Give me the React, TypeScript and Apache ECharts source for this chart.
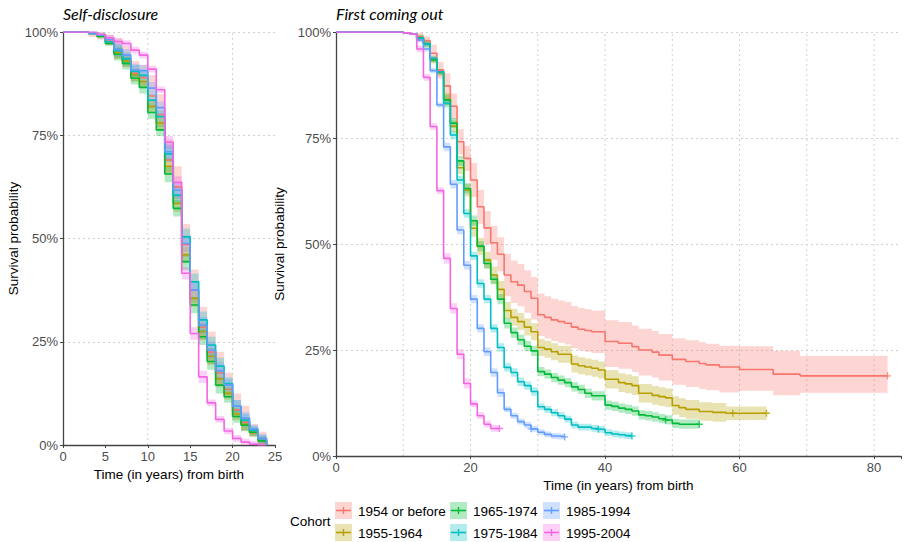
import React, { useEffect, useRef } from "react";
import * as echarts from "echarts";

// ---------- Legend / cohorts ----------
const cohorts = ["1954 or before", "1955-1964", "1965-1974", "1975-1984", "1985-1994", "1995-2004"];
const cohortColors = ["#F8766D", "#B79F00", "#00BA38", "#00BFC4", "#619CFF", "#F564E3"];
const legendTitle = "Cohort";

// ---------- Panel titles / axis names ----------
const panelTitles = ["Self-disclosure", "First coming out"];
const xAxisName = "Time (in years) from birth";
const yAxisName = "Survival probability";
const yTicks = [0, 25, 50, 75, 100];
const sdXTicks = [0, 5, 10, 15, 20, 25];
const foXTicks = [0, 20, 40, 60, 80];
const sdGridX = [10, 20];
const foGridX = [10, 20, 30, 40, 50, 60, 70, 80];

// ---------- Self-disclosure (left panel): survival % on [t, t+1), t = 0..24 ----------
const sdYears = [0, 1, 2, 3, 4, 5, 6, 7, 8, 9, 10, 11, 12, 13, 14, 15, 16, 17, 18, 19, 20, 21, 22, 23, 24];
const sd1954 = [100, 100, 100, 99.8, 99.2, 97.8, 95.5, 93.5, 90.0, 89.0, 84.5, 80.0, 69.0, 62.5, 48.5, 37.5, 28.5, 22.5, 17.5, 13.5, 8.5, 5.5, 3.0, 1.2, 0];
const sd1955 = [100, 100, 100, 99.8, 99.0, 97.4, 95.0, 93.0, 89.6, 88.0, 82.0, 78.0, 67.5, 58.5, 46.0, 35.5, 27.5, 21.5, 16.0, 12.5, 7.5, 5.0, 3.0, 1.0, 0];
const sd1965 = [100, 100, 100, 99.8, 99.0, 97.2, 94.6, 92.4, 88.8, 86.6, 80.5, 76.3, 65.6, 57.3, 44.4, 33.9, 26.2, 20.2, 14.5, 11.7, 6.9, 4.8, 3.1, 1.0, 0];
const sd1975 = [100, 100, 100, 99.8, 99.2, 97.6, 95.5, 93.5, 90.5, 89.5, 83.5, 79.5, 70.5, 60.5, 50.4, 39.5, 30.3, 24.2, 19.1, 14.9, 9.4, 6.0, 3.6, 1.5, 0];
const sd1985 = [100, 100, 100, 99.8, 99.3, 98.2, 95.8, 94.4, 90.8, 90.6, 86.4, 81.7, 71.0, 61.7, 48.8, 37.5, 29.0, 23.0, 18.0, 14.5, 9.4, 6.5, 3.9, 1.6, 0];
const sd1995 = [100, 100, 100, 100, 99.4, 98.6, 97.7, 97.2, 95.6, 94.4, 91.0, 86.0, 73.3, 63.6, 41.6, 27.0, 16.5, 10.2, 6.2, 3.4, 1.6, 0.7, 0.2, 0, 0];

// confidence band: [from time, below, above] in percentage points
const sdBand1954 = [[0, 0, 0], [3, 1, 1.5], [6, 2, 3], [10, 3, 5], [19, 2, 4], [22, 1, 2]];
const sdBandMid = [[0, 0, 0], [3, 0.5, 0.5], [6, 1.5, 1.5], [12, 2, 2], [19, 1.5, 1.5], [22, 1, 1]];
const sdBand1995 = [[0, 0, 0], [5, 0.8, 0.8], [12, 1.5, 1.5], [17, 0.8, 0.8]];

// ---------- First coming out (right panel): [time, survival %] change points ----------
const fo1954 = [[0, 100], [10, 99.8], [11, 99.5], [12, 98.8], [13, 98.0], [14, 95.0], [15, 91.0], [16, 87.3], [17, 82.5], [18, 74.1], [19, 70.2], [20, 65.1], [21, 58.8], [22, 53.8], [23, 50.3], [24, 47.6], [25, 42.7], [26, 41.1], [27, 40.3], [28, 38.8], [29, 37.2], [30, 33.3], [31, 32.7], [32, 32.1], [33, 31.7], [34, 31.3], [35, 30.4], [36, 29.9], [37, 29.6], [38, 29.3], [40, 27.0], [42, 26.6], [44, 25.8], [45, 25.0], [47, 24.5], [48, 23.8], [50, 22.8], [52, 22.3], [54, 21.8], [55, 21.5], [57, 21.0], [60, 20.4], [65, 19.3], [69, 18.9], [82, 18.9]];
const fo1955 = [[0, 100], [10, 99.8], [11, 99.5], [12, 98.6], [13, 97.2], [14, 93.4], [15, 90.4], [16, 84.1], [17, 77.8], [18, 68.0], [19, 62.7], [20, 53.7], [21, 49.4], [22, 46.2], [23, 42.7], [24, 39.3], [25, 34.3], [26, 32.7], [27, 31.7], [28, 30.4], [29, 29.3], [30, 25.6], [31, 25.2], [32, 24.6], [33, 24.0], [35, 21.7], [36, 21.3], [37, 21.0], [38, 20.7], [39, 20.3], [40, 18.1], [42, 17.3], [43, 17.0], [44, 16.6], [45, 14.8], [47, 14.3], [48, 14.0], [49, 13.7], [50, 11.9], [51, 11.4], [52, 11.0], [54, 10.5], [56, 10.3], [58, 10.1], [64, 10.1]];
const fo1965 = [[0, 100], [10, 99.8], [11, 99.5], [12, 98.6], [13, 97.2], [14, 93.4], [15, 90.6], [16, 84.0], [17, 78.5], [18, 69.6], [19, 63.1], [20, 55.5], [21, 49.5], [22, 45.4], [23, 41.7], [24, 37.0], [25, 31.3], [26, 29.1], [27, 27.4], [28, 25.9], [29, 24.8], [30, 19.9], [31, 19.3], [32, 18.5], [33, 17.9], [34, 17.3], [35, 16.3], [36, 15.7], [37, 14.8], [38, 14.2], [40, 12.0], [41, 11.7], [42, 11.3], [43, 11.0], [44, 10.6], [45, 9.7], [46, 9.5], [47, 9.2], [48, 8.8], [49, 8.5], [50, 7.7], [51, 7.5], [54, 7.5]];
const fo1975 = [[0, 100], [10, 99.8], [11, 99.5], [12, 98.6], [13, 97.2], [14, 93.8], [15, 90.6], [16, 83.2], [17, 75.7], [18, 65.1], [19, 57.2], [20, 47.2], [21, 40.7], [22, 37.0], [23, 30.1], [24, 25.6], [25, 20.9], [26, 19.7], [27, 17.5], [28, 16.6], [29, 15.2], [30, 11.6], [31, 11.0], [32, 10.2], [33, 9.5], [34, 8.7], [35, 7.3], [36, 6.8], [38, 6.5], [39, 6.3], [40, 5.5], [41, 5.2], [42, 5.0], [43, 4.8], [44, 4.7]];
const fo1985 = [[0, 100], [10, 99.8], [11, 99.5], [12, 98.1], [13, 96.0], [14, 90.9], [15, 82.8], [16, 72.9], [17, 64.1], [18, 53.3], [19, 45.0], [20, 37.0], [21, 30.1], [22, 24.6], [23, 19.7], [24, 14.9], [25, 11.0], [26, 9.5], [27, 8.1], [28, 7.3], [29, 6.4], [30, 5.6], [31, 5.1], [32, 4.7], [33, 4.6], [34, 4.5]];
const fo1995 = [[0, 100], [10, 99.8], [11, 99.5], [12, 96.0], [13, 89.3], [14, 77.7], [15, 62.6], [16, 46.6], [17, 34.8], [18, 24.0], [19, 17.1], [20, 12.3], [21, 9.5], [22, 7.5], [23, 6.5], [24.3, 6.5]];

const foBand1954 = [[0, 0, 0], [12, 1, 1], [14, 2, 2], [16, 3, 3], [20, 4, 4], [25, 5, 5], [40, 6, 5], [60, 5, 5.5], [69, 4, 4.7]];
const foBand1955 = [[0, 0, 0], [12, 0.8, 0.8], [16, 1.5, 1.5], [20, 2, 2], [40, 2.2, 2.2], [58, 1.6, 1.6]];
const foBand1965 = [[0, 0, 0], [12, 0.6, 0.6], [16, 1.2, 1.2], [30, 1.1, 1.1]];
const foBand1975 = [[0, 0, 0], [12, 0.6, 0.6], [16, 1, 1], [30, 0.8, 0.8]];
const foBand1985 = [[0, 0, 0], [12, 0.6, 0.6], [16, 1, 1], [25, 0.7, 0.7]];
const foBand1995 = [[0, 0, 0], [12, 0.8, 0.8], [16, 1.2, 1.2], [20, 0.8, 0.8]];

// censored observations ("+" marks)
const foCensor1954 = [[82, 18.9]];
const foCensor1955 = [[59, 10.1], [64, 10.1]];
const foCensor1965 = [[49, 8.5], [54, 7.5]];
const foCensor1975 = [[39, 6.3], [44, 4.7]];
const foCensor1985 = [[29, 6.4], [34, 4.5]];
const foCensor1995 = [[24.3, 6.5]];

// ---------- assembly ----------
const sdCurves = [sd1954, sd1955, sd1965, sd1975, sd1985, sd1995].map((vals) =>
  vals.map((v, i) => [sdYears[i], v])
);
const sdBands = [sdBand1954, sdBandMid, sdBandMid, sdBandMid, sdBandMid, sdBand1995];
const foCurves = [fo1954, fo1955, fo1965, fo1975, fo1985, fo1995];
const foBands = [foBand1954, foBand1955, foBand1965, foBand1975, foBand1985, foBand1995];
const foCensors = [foCensor1954, foCensor1955, foCensor1965, foCensor1975, foCensor1985, foCensor1995];

const FONT = "'Liberation Sans', Arial, Helvetica, sans-serif";
const TITLE_FONT = "Lato, 'Open Sans', sans-serif";
const PLUS = "path://M4,0h2v4h4v2h-4v4h-2v-4h-4v-2h4z";

function bandAt(band: number[][], t: number) {
  let b = band[0];
  for (const e of band) if (e[0] <= t) b = e;
  return b;
}

function bandPolygon(curve: number[][], band: number[][]) {
  const upper: number[][] = [];
  const lower: number[][] = [];
  for (let i = 0; i < curve.length - 1; i++) {
    const [t0, v] = curve[i];
    const t1 = curve[i + 1][0];
    const b = bandAt(band, t0);
    const hi = Math.min(100, v + b[2]);
    const lo = Math.max(0, v - b[1]);
    upper.push([t0, hi], [t1, hi]);
    lower.push([t0, lo], [t1, lo]);
  }
  return upper.concat(lower.reverse());
}

function buildOption() {
  const series: any[] = [];
  const panels = [
    { curves: sdCurves, bands: sdBands, censors: null as any, gridX: sdGridX },
    { curves: foCurves, bands: foBands, censors: foCensors, gridX: foGridX },
  ];
  panels.forEach((p, pi) => {
    series.push({
      type: "custom",
      xAxisIndex: pi,
      yAxisIndex: pi,
      silent: true,
      z: 0,
      data: p.gridX.map((t) => [t, 0]),
      renderItem: (params: any, api: any) => {
        const t = api.value(0);
        const a = api.coord([t, 0]);
        const b = api.coord([t, 100]);
        return {
          type: "line",
          shape: { x1: a[0], y1: a[1], x2: b[0], y2: b[1] },
          style: { stroke: "#d0d0d0", lineWidth: 1, lineDash: [2, 3] },
        };
      },
    });
    p.curves.forEach((curve, ci) => {
      const poly = bandPolygon(curve, p.bands[ci]);
      series.push({
        type: "custom",
        xAxisIndex: pi,
        yAxisIndex: pi,
        silent: true,
        z: 1,
        data: [[curve[0][0], curve[0][1]]],
        renderItem: (params: any, api: any) => ({
          type: "polygon",
          shape: { points: poly.map((pt) => api.coord(pt)) },
          style: { fill: echarts.color.modifyAlpha(cohortColors[ci], 0.3), stroke: "none" },
        }),
      });
    });
    p.curves.forEach((curve, ci) => {
      series.push({
        type: "line",
        name: cohorts[ci],
        xAxisIndex: pi,
        yAxisIndex: pi,
        step: "end",
        symbol: "none",
        showSymbol: false,
        silent: true,
        z: 3,
        data: curve,
        lineStyle: { color: cohortColors[ci], width: 1.6 },
        itemStyle: { color: cohortColors[ci] },
      });
      if (p.censors) {
        series.push({
          type: "scatter",
          xAxisIndex: pi,
          yAxisIndex: pi,
          silent: true,
          z: 4,
          symbol: PLUS,
          symbolSize: 7,
          data: p.censors[ci],
          itemStyle: { color: cohortColors[ci] },
        });
      }
    });
  });

  const axisLine = { show: true, onZero: false, lineStyle: { color: "#444444", width: 1.3 } };
  const axisTick = { show: true, length: 3, lineStyle: { color: "#444444" } };
  const labelStyle = { color: "#4D4D4D", fontSize: 13, fontFamily: FONT };
  const nameStyle = { color: "#000000", fontSize: 13.5, fontFamily: FONT };

  const xAxis = [
    { ticks: sdXTicks, max: 25 },
    { ticks: foXTicks, max: 84 },
  ].map((a, i) => ({
    type: "value",
    gridIndex: i,
    min: a.ticks[0],
    max: a.max,
    interval: a.ticks[1] - a.ticks[0],
    axisLine,
    axisTick,
    axisLabel: {
      ...labelStyle,
      margin: 5,
      formatter: (v: number) => (a.ticks.includes(v) ? String(v) : ""),
    },
    splitLine: { show: false },
    name: xAxisName,
    nameLocation: "middle",
    nameGap: 16,
    nameTextStyle: nameStyle,
  }));

  const yAxis = [0, 1].map((i) => ({
    type: "value",
    gridIndex: i,
    min: yTicks[0],
    max: yTicks[yTicks.length - 1],
    interval: yTicks[1] - yTicks[0],
    axisLine,
    axisTick,
    axisLabel: { ...labelStyle, margin: 5, formatter: "{value}%" },
    splitLine: { show: true, lineStyle: { color: "#d0d0d0", width: 1, type: [2, 3] } },
    name: yAxisName,
    nameLocation: "middle",
    nameGap: 36,
    nameTextStyle: nameStyle,
  }));

  const legendCols = [335, 450, 543];
  const legendRows = [502, 524];
  const graphics: any[] = [
    {
      type: "text",
      left: 290,
      top: 514,
      style: { text: legendTitle, fontSize: 13.5, fontFamily: FONT, fill: "#000" },
    },
  ];
  cohorts.forEach((name, i) => {
    const x = legendCols[Math.floor(i / 2)];
    const y = legendRows[i % 2];
    const c = cohortColors[i];
    graphics.push(
      { type: "rect", shape: { x, y, width: 17, height: 17 }, style: { fill: echarts.color.modifyAlpha(c, 0.3) } },
      { type: "line", shape: { x1: x + 1, y1: y + 8.5, x2: x + 16, y2: y + 8.5 }, style: { stroke: c, lineWidth: 1.6 } },
      { type: "line", shape: { x1: x + 8.5, y1: y + 5, x2: x + 8.5, y2: y + 12 }, style: { stroke: c, lineWidth: 1.4 } },
      {
        type: "text",
        x: x + 23,
        y: y + 9,
        style: { text: name, fontSize: 13.5, fontFamily: FONT, fill: "#000", verticalAlign: "middle", align: "left" },
      }
    );
  });

  return {
    animation: false,
    backgroundColor: "#ffffff",
    title: [
      { text: panelTitles[0], left: 63, top: 5 },
      { text: panelTitles[1], left: 336, top: 5 },
    ].map((t) => ({
      ...t,
      padding: 0,
      textStyle: { fontFamily: TITLE_FONT, fontStyle: "italic", fontWeight: "normal", fontSize: 16, color: "#000" },
    })),
    grid: [
      { left: 63, top: 32, width: 212, height: 413 },
      { left: 336, top: 32, width: 568, height: 424 },
    ],
    xAxis,
    yAxis,
    series,
    graphic: graphics,
  };
}

export default function App() {
  const ref = useRef<HTMLDivElement>(null);
  useEffect(() => {
    if (!ref.current) return;
    const chart = echarts.init(ref.current, null, { renderer: "svg" });
    chart.setOption(buildOption() as any);
    return () => chart.dispose();
  }, []);
  return <div ref={ref} style={{ position: "absolute", left: 0, top: 0, width: 904, height: 542 }} />;
}
